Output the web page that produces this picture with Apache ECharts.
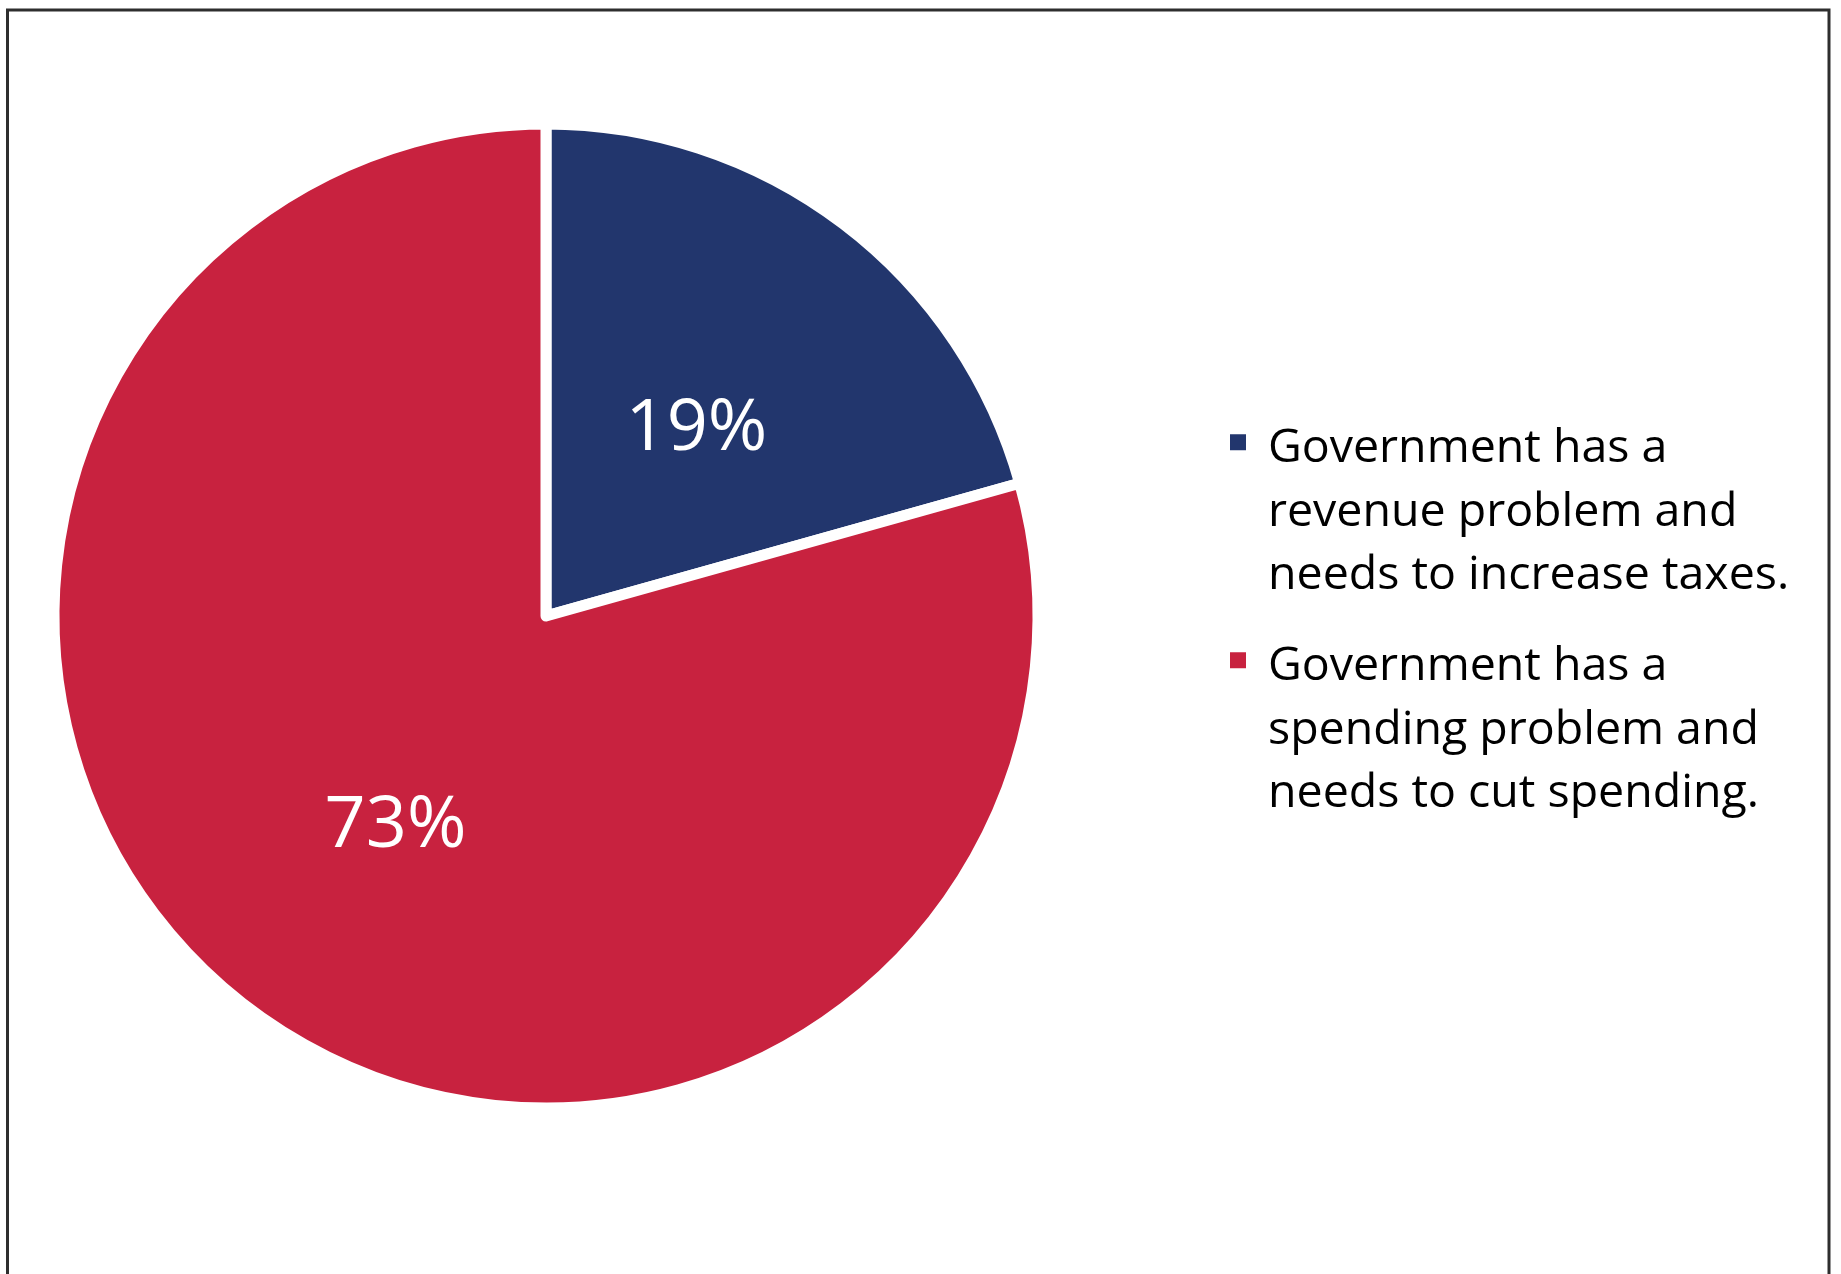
<!DOCTYPE html>
<html>
<head>
<meta charset="utf-8">
<title>Revenue or spending problem</title>
<script src="https://cdn.jsdelivr.net/npm/echarts@6/dist/echarts.min.js"></script>
<style>
  html, body { margin: 0; padding: 0; background: #ffffff; }
  #chart { width: 1841px; height: 1274px; }
</style>
</head>
<body>
<div id="chart"></div>
<script>
// Survey answers shown as shares of the pie
const categories = [
  'Government has a\nrevenue problem and\nneeds to increase taxes.',
  'Government has a\nspending problem and\nneeds to cut spending.'
];
const shares = [19, 73];
const sliceColors = ['#22366D', '#C8223F'];

const chart = echarts.init(document.getElementById('chart'), null, { renderer: 'canvas' });

const pieData = categories.map((name, i) => ({
  name: name,
  value: shares[i],
  itemStyle: { color: sliceColors[i] }
}));

chart.setOption({
  animation: false,
  backgroundColor: '#ffffff',
  graphic: [{
    type: 'rect',
    silent: true,
    shape: { x: 7.5, y: 10, width: 1821.5, height: 1400 },
    style: { fill: 'none', stroke: '#2e2e2e', lineWidth: 3 }
  }],
  legend: {
    orient: 'vertical',
    left: 1228,
    top: 277,
    padding: 0,
    itemWidth: 18,
    itemHeight: 18,
    itemGap: -112.5,
    icon: 'rect',
    selectedMode: false,
    data: categories,
    // two spacer lines above each entry so the marker sits beside its first line
    formatter: name => '{gap| }\n{gap| }\n' + name,
    textStyle: {
      fontFamily: '"Open Sans", sans-serif',
      fontSize: 46.5,
      lineHeight: 63.5,
      color: '#000000',
      padding: [0, 0, 0, 16],
      rich: {
        gap: { fontSize: 10, lineHeight: 70 }
      }
    }
  },
  series: [{
    type: 'pie',
    center: [546, 616],
    radius: 492,
    startAngle: 90,
    clockwise: true,
    avoidLabelOverlap: false,
    emphasis: { disabled: true },
    itemStyle: {
      borderColor: '#ffffff',
      borderWidth: 11,
      borderJoin: 'round'
    },
    label: {
      show: true,
      position: 'inside',
      formatter: '{c}%',
      color: '#ffffff',
      fontFamily: '"Open Sans", sans-serif',
      fontSize: 72
    },
    labelLayout: { dy: 12 },
    labelLine: { show: false },
    data: pieData
  }]
});
</script>
</body>
</html>
